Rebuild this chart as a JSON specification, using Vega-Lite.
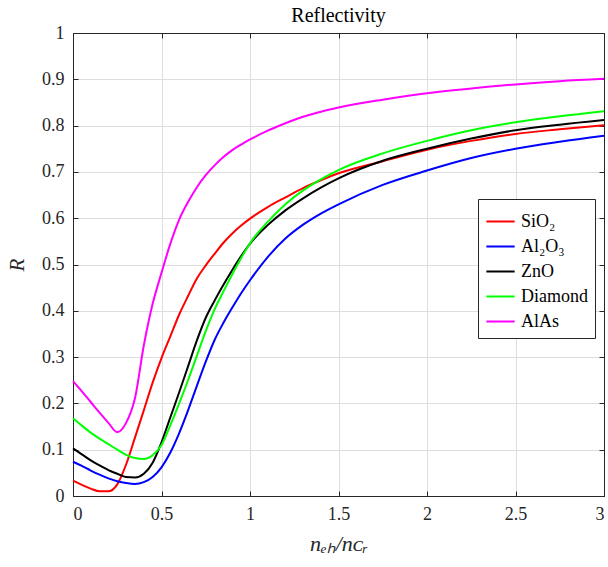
{
  "$schema": "https://vega.github.io/schema/vega-lite/v6.json",
  "autosize": {"type": "none"},
  "padding": {"left": 73, "top": 33, "right": 4, "bottom": 71},
  "width": 531,
  "height": 463,
  "background": "white",
  "config": {
    "font": "Times New Roman, Liberation Serif, serif",
    "view": {"stroke": "#262626", "strokeWidth": 1},
    "axis": {
      "labelFont": "Times New Roman, Liberation Serif, serif",
      "labelFontSize": 18,
      "labelColor": "#262626",
      "titleFont": "Times New Roman, Liberation Serif, serif",
      "titleFontWeight": "normal",
      "titleColor": "#262626",
      "domainColor": "#262626",
      "tickColor": "#262626",
      "gridColor": "#dedede",
      "gridOpacity": 1,
      "tickSize": -5
    },
    "legend": {"labelFont": "Times New Roman, Liberation Serif, serif", "titleFont": "Times New Roman, Liberation Serif, serif"},
    "title": {"font": "Times New Roman, Liberation Serif, serif", "fontSize": 20, "fontWeight": "normal", "color": "#000000"}
  },
  "title": {"text": "Reflectivity", "offset": -2},
  "data": {
    "values": [
      {"x": 0, "SiO₂": 0.033, "Al₂O₃": 0.074, "ZnO": 0.103, "Diamond": 0.168, "AlAs": 0.248},
      {"x": 0.05, "SiO₂": 0.024, "Al₂O₃": 0.065, "ZnO": 0.090, "Diamond": 0.152, "AlAs": 0.226},
      {"x": 0.1, "SiO₂": 0.016, "Al₂O₃": 0.055, "ZnO": 0.077, "Diamond": 0.137, "AlAs": 0.203},
      {"x": 0.15, "SiO₂": 0.010, "Al₂O₃": 0.046, "ZnO": 0.066, "Diamond": 0.124, "AlAs": 0.180},
      {"x": 0.2, "SiO₂": 0.010, "Al₂O₃": 0.038, "ZnO": 0.056, "Diamond": 0.112, "AlAs": 0.158},
      {"x": 0.25, "SiO₂": 0.025, "Al₂O₃": 0.032, "ZnO": 0.048, "Diamond": 0.100, "AlAs": 0.138},
      {"x": 0.3, "SiO₂": 0.068, "Al₂O₃": 0.028, "ZnO": 0.041, "Diamond": 0.089, "AlAs": 0.158},
      {"x": 0.35, "SiO₂": 0.126, "Al₂O₃": 0.026, "ZnO": 0.040, "Diamond": 0.082, "AlAs": 0.211},
      {"x": 0.4, "SiO₂": 0.185, "Al₂O₃": 0.030, "ZnO": 0.048, "Diamond": 0.080, "AlAs": 0.325},
      {"x": 0.45, "SiO₂": 0.245, "Al₂O₃": 0.041, "ZnO": 0.072, "Diamond": 0.088, "AlAs": 0.415},
      {"x": 0.5, "SiO₂": 0.298, "Al₂O₃": 0.062, "ZnO": 0.116, "Diamond": 0.110, "AlAs": 0.482},
      {"x": 0.55, "SiO₂": 0.345, "Al₂O₃": 0.094, "ZnO": 0.170, "Diamond": 0.153, "AlAs": 0.545},
      {"x": 0.6, "SiO₂": 0.392, "Al₂O₃": 0.136, "ZnO": 0.224, "Diamond": 0.200, "AlAs": 0.597},
      {"x": 0.65, "SiO₂": 0.432, "Al₂O₃": 0.185, "ZnO": 0.280, "Diamond": 0.250, "AlAs": 0.635},
      {"x": 0.7, "SiO₂": 0.470, "Al₂O₃": 0.238, "ZnO": 0.336, "Diamond": 0.303, "AlAs": 0.667},
      {"x": 0.75, "SiO₂": 0.498, "Al₂O₃": 0.290, "ZnO": 0.385, "Diamond": 0.356, "AlAs": 0.693},
      {"x": 0.8, "SiO₂": 0.523, "Al₂O₃": 0.337, "ZnO": 0.422, "Diamond": 0.403, "AlAs": 0.714},
      {"x": 0.85, "SiO₂": 0.547, "Al₂O₃": 0.374, "ZnO": 0.456, "Diamond": 0.442, "AlAs": 0.732},
      {"x": 0.9, "SiO₂": 0.567, "Al₂O₃": 0.407, "ZnO": 0.488, "Diamond": 0.479, "AlAs": 0.747},
      {"x": 0.95, "SiO₂": 0.584, "Al₂O₃": 0.438, "ZnO": 0.518, "Diamond": 0.514, "AlAs": 0.759},
      {"x": 1.0, "SiO₂": 0.599, "Al₂O₃": 0.466, "ZnO": 0.545, "Diamond": 0.546, "AlAs": 0.770},
      {"x": 1.1, "SiO₂": 0.624, "Al₂O₃": 0.516, "ZnO": 0.585, "Diamond": 0.592, "AlAs": 0.789},
      {"x": 1.2, "SiO₂": 0.645, "Al₂O₃": 0.556, "ZnO": 0.617, "Diamond": 0.630, "AlAs": 0.805},
      {"x": 1.3, "SiO₂": 0.665, "Al₂O₃": 0.586, "ZnO": 0.643, "Diamond": 0.660, "AlAs": 0.819},
      {"x": 1.4, "SiO₂": 0.682, "Al₂O₃": 0.610, "ZnO": 0.666, "Diamond": 0.684, "AlAs": 0.830},
      {"x": 1.5, "SiO₂": 0.697, "Al₂O₃": 0.630, "ZnO": 0.686, "Diamond": 0.704, "AlAs": 0.839},
      {"x": 1.75, "SiO₂": 0.723, "Al₂O₃": 0.672, "ZnO": 0.724, "Diamond": 0.740, "AlAs": 0.856},
      {"x": 2.0, "SiO₂": 0.748, "Al₂O₃": 0.703, "ZnO": 0.750, "Diamond": 0.767, "AlAs": 0.870},
      {"x": 2.25, "SiO₂": 0.767, "Al₂O₃": 0.730, "ZnO": 0.772, "Diamond": 0.790, "AlAs": 0.880},
      {"x": 2.5, "SiO₂": 0.782, "Al₂O₃": 0.750, "ZnO": 0.790, "Diamond": 0.807, "AlAs": 0.889},
      {"x": 2.75, "SiO₂": 0.792, "Al₂O₃": 0.765, "ZnO": 0.802, "Diamond": 0.820, "AlAs": 0.896},
      {"x": 3.0, "SiO₂": 0.801, "Al₂O₃": 0.778, "ZnO": 0.812, "Diamond": 0.831, "AlAs": 0.901}
    ]
  },
  "transform": [
    {"fold": ["SiO₂", "Al₂O₃", "ZnO", "Diamond", "AlAs"], "as": ["material", "R"]}
  ],
  "resolve": {"axis": {"x": "independent", "y": "independent"}},
  "layer": [
    {
      "mark": {"type": "line", "interpolate": "monotone", "strokeWidth": 2},
      "encoding": {
        "x": {
          "field": "x", "type": "quantitative",
          "scale": {"domain": [0, 3], "nice": false},
          "axis": {"values": [0, 0.5, 1, 1.5, 2, 2.5, 3], "format": ".1~f", "labelPadding": 14,
                   "title": "nₑₕ/nᴄᵣ", "titleFontSize": 22, "titleFontStyle": "italic", "titlePadding": 10}
        },
        "y": {
          "field": "R", "type": "quantitative",
          "scale": {"domain": [0, 1], "nice": false},
          "axis": {"values": [0, 0.1, 0.2, 0.3, 0.4, 0.5, 0.6, 0.7, 0.8, 0.9, 1], "format": ".1~f", "labelPadding": 14,
                   "title": "R", "titleFontSize": 21, "titleFontStyle": "italic", "titlePadding": 14}
        },
        "color": {
          "field": "material", "type": "nominal",
          "scale": {"domain": ["SiO₂", "Al₂O₃", "ZnO", "Diamond", "AlAs"],
                    "range": ["#ff0000", "#0000ff", "#000000", "#00ff00", "#ff00ff"]},
          "legend": {
            "title": null, "orient": "none", "legendX": 405, "legendY": 166,
            "symbolType": "stroke", "symbolSize": 800, "symbolStrokeWidth": 2,
            "labelFontSize": 18, "labelColor": "#000000", "labelOffset": 5,
            "rowPadding": -3, "padding": 7, "strokeColor": "#262626", "fillColor": "white"
          }
        }
      }
    },
    {
      "mark": {"type": "line", "strokeOpacity": 0},
      "encoding": {
        "x": {"field": "x", "type": "quantitative", "scale": {"domain": [0, 3], "nice": false},
              "axis": {"orient": "top", "values": [0, 0.5, 1, 1.5, 2, 2.5, 3], "labels": false, "grid": false, "title": null}},
        "y": {"field": "R", "type": "quantitative", "scale": {"domain": [0, 1], "nice": false},
              "axis": {"orient": "right", "values": [0, 0.1, 0.2, 0.3, 0.4, 0.5, 0.6, 0.7, 0.8, 0.9, 1], "labels": false, "grid": false, "title": null}},
        "detail": {"field": "material"}
      }
    }
  ]
}
